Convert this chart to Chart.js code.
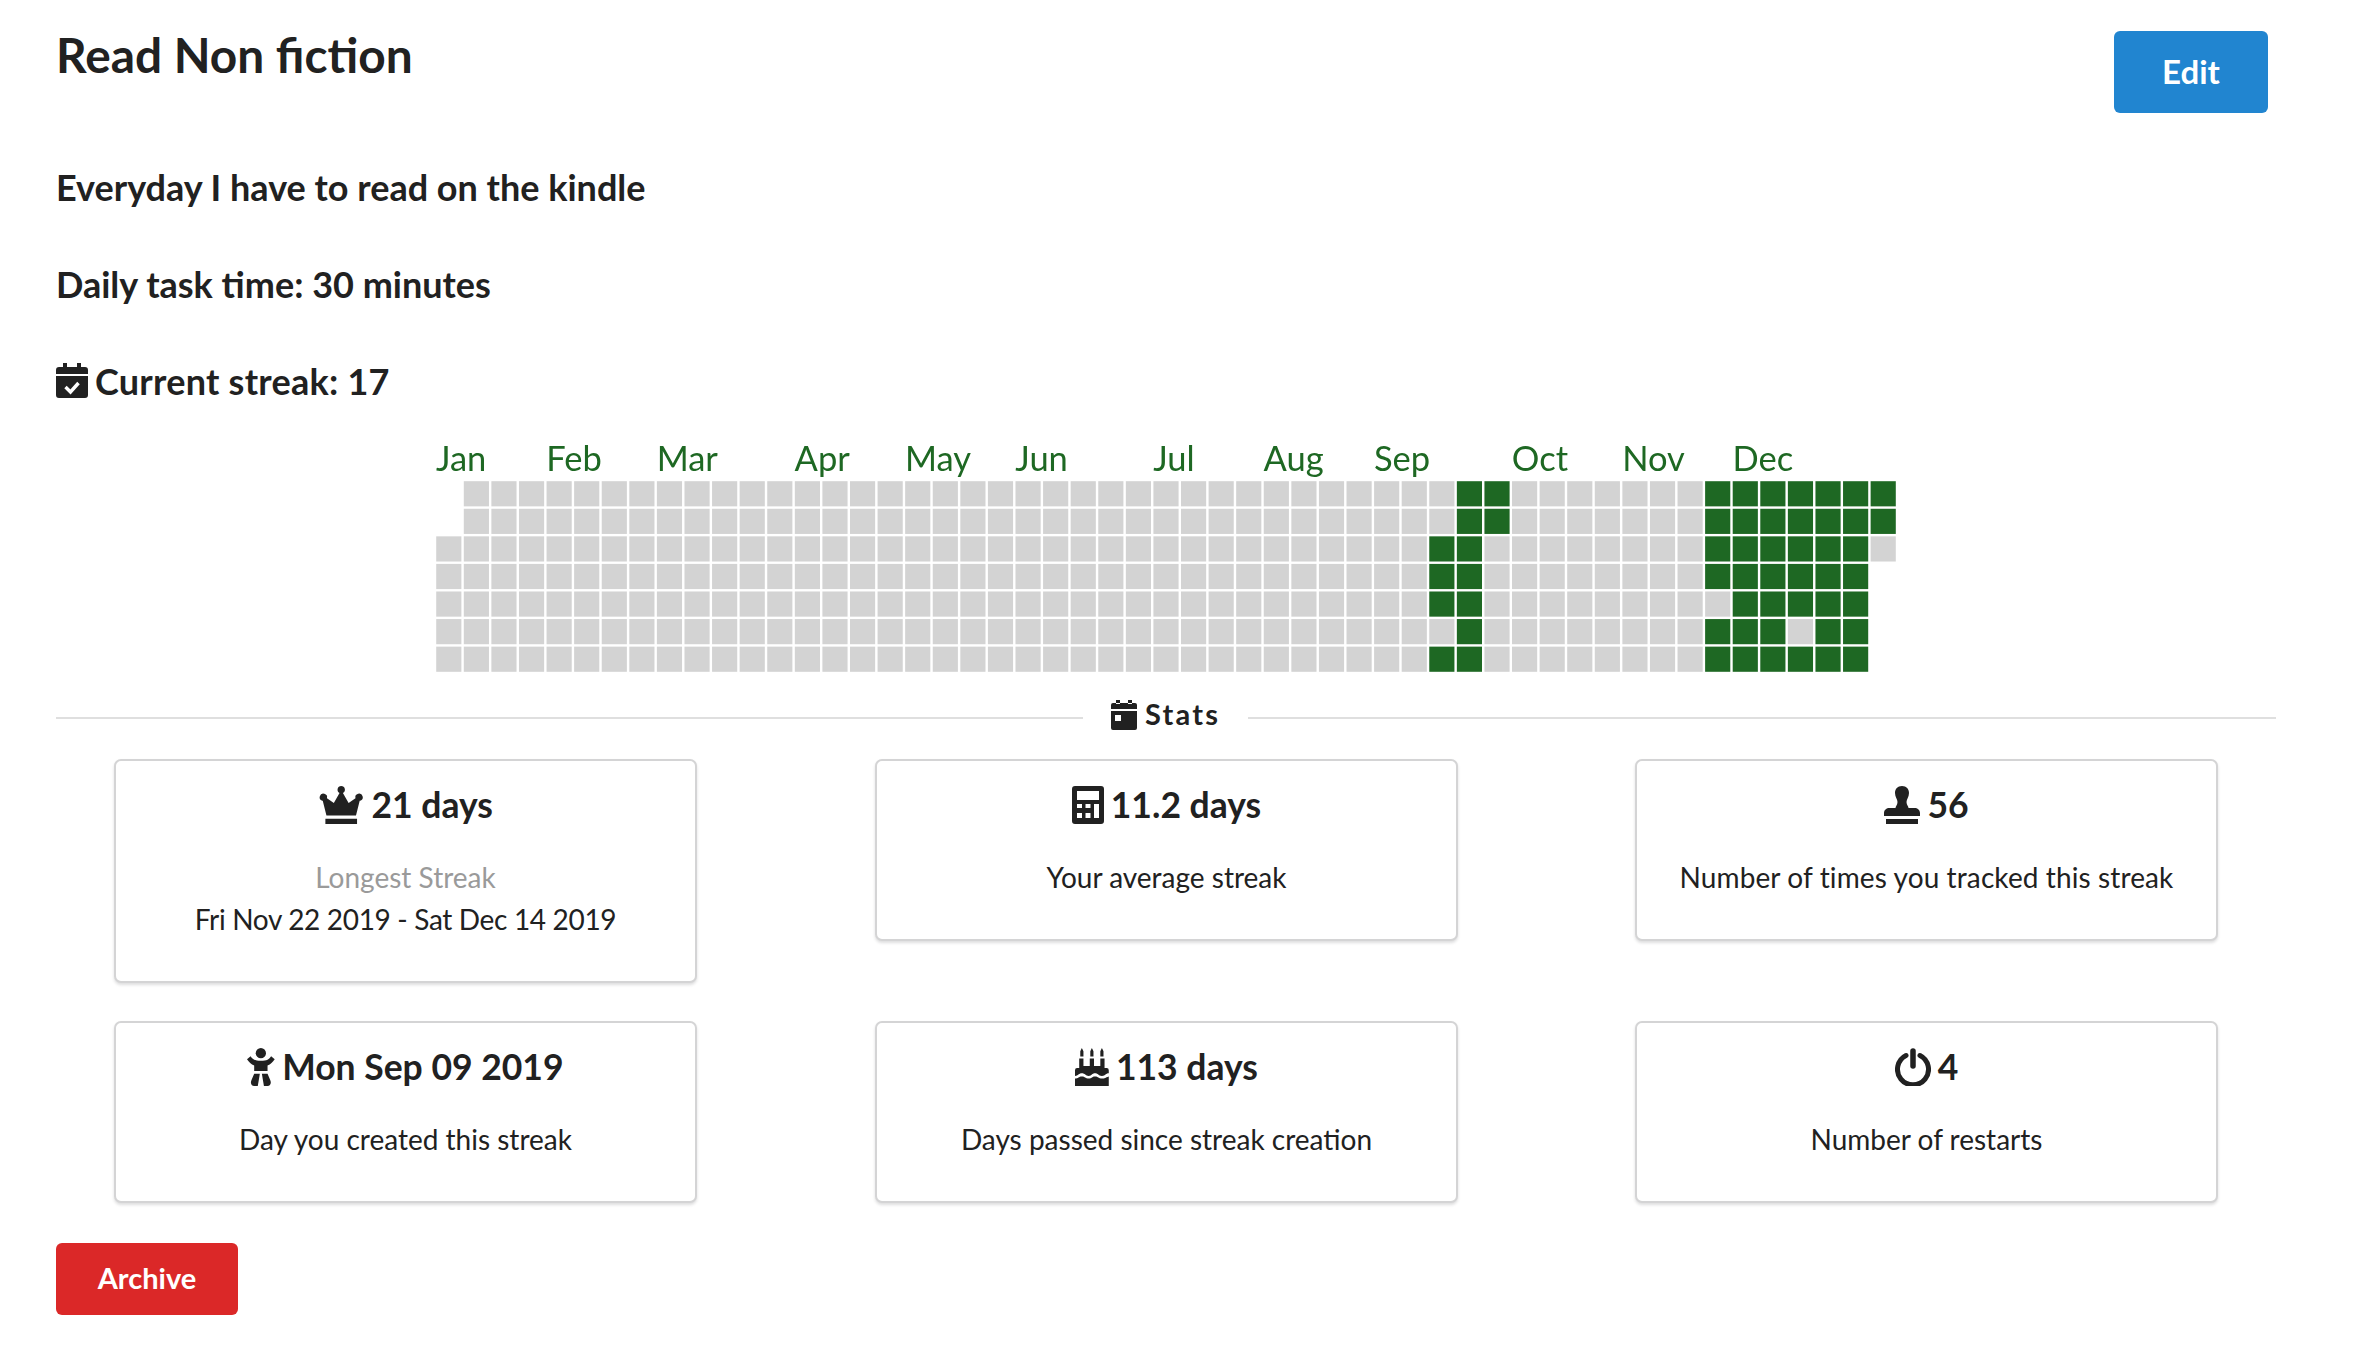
<!DOCTYPE html>
<html>
<head>
<meta charset="utf-8">
<title>Read Non fiction</title>
<script src="https://cdn.jsdelivr.net/npm/chart.js@4"></script>
<style>
  html, body { margin: 0; padding: 0; background: #fff; }
  body { width: 2361px; height: 1351px; position: relative; overflow: hidden; font-family: Lato, sans-serif; color: #212121; }
  .txt { position: absolute; white-space: nowrap; line-height: 1; }
  .title { left: 56px; top: 31px; font-size: 47.8px; font-weight: 700; }
  .info { left: 56px; font-size: 36px; font-weight: 700; }
  .btn { position: absolute; color: #fff; font-weight: 700; text-align: center; border-radius: 6px; }
  #edit { left: 2114px; top: 31px; width: 154px; height: 82px; line-height: 80px; font-size: 33px; background: #2185d0; }
  #archive { left: 56px; top: 1243px; width: 182px; height: 72px; line-height: 70px; font-size: 29px; background: #db2828; }
  .rule { position: absolute; top: 717px; height: 2px; background: #dfdfdf; }
  .card { position: absolute; box-sizing: border-box; width: 583px; border: 2px solid #d4d4d5; border-radius: 7px; box-shadow: 0 2px 3px rgba(34,36,38,.15); background: #fff; text-align: center; }
  .head { position: absolute; left: 0; right: 0; top: 23px; font-size: 35.5px; line-height: 42px; font-weight: 700; display: flex; justify-content: center; align-items: center; gap: 7px; }
  .head svg { height: 38px; width: auto; fill: #212121; }
  .sub { position: absolute; left: 0; right: 0; font-size: 28px; line-height: 34px; font-weight: 400; }
  .muted { color: #9a9a9a; }
  #heatmap { position: absolute; left: 435px; top: 430px; }
  svg { display: block; }
</style>
</head>
<body>
  <div class="txt title">Read Non fiction</div>
  <div class="btn" id="edit">Edit</div>
  <div class="txt info" style="top:169px">Everyday I have to read on the kindle</div>
  <div class="txt info" style="top:266px">Daily task time: 30 minutes</div>
  <svg style="position:absolute;left:56px;top:363px" width="32" height="35" viewBox="0 0 32 35">
    <path fill="#212121" d="M7 0h4v5H7zM21 0h4v5h-4zM3 4h26a3 3 0 0 1 3 3v4H0V7a3 3 0 0 1 3-3zM0 13h32v19a3 3 0 0 1-3 3H3a3 3 0 0 1-3-3z"/>
    <path fill="none" stroke="#fff" stroke-width="3.4" d="M9.5 24l5 5 8-9"/>
  </svg>
  <div class="txt info" style="left:95px;top:363px;letter-spacing:.25px">Current streak: 17</div>

  <canvas id="heatmap" width="1462" height="243"></canvas>

  <div class="rule" style="left:56px;width:1027px"></div>
  <div class="rule" style="left:1248px;width:1028px"></div>
  <svg style="position:absolute;left:1111px;top:700px" width="26" height="30" viewBox="0 0 26 30">
    <path fill="#212121" d="M5 0h4v4H5zM17 0h4v4h-4zM2 3h22a2 2 0 0 1 2 2v4H0V5a2 2 0 0 1 2-2zM0 11h26v17a2 2 0 0 1-2 2H2a2 2 0 0 1-2-2zM4 15v6h6v-6z" fill-rule="evenodd"/>
  </svg>
  <div class="txt" style="left:1145px;top:699px;font-size:29px;font-weight:700;letter-spacing:2.2px">Stats</div>

  <div class="card" style="left:114px;top:759px;height:224px">
    <div class="head">
      <svg viewBox="0 0 44 36"><path d="M22 0a3.5 3.5 0 0 1 1.6 6.6L29 16l6.500-4.500a3.500 3.500 0 1 1 4.500 2.500h-.5L36 28H8L4.500 14H4a3.500 3.500 0 1 1 4.500-2.500L15 16l5.400-9.400A3.500 3.500 0 0 1 22 0zM7 31h30v5H7z"/></svg>
      <span>21 days</span>
    </div>
    <div class="sub muted" style="top:99px">Longest Streak</div>
    <div class="sub" style="top:141px;letter-spacing:-.33px">Fri Nov 22 2019 - Sat Dec 14 2019</div>
  </div>
  <div class="card" style="left:875px;top:759px;height:182px">
    <div class="head">
      <svg viewBox="0 0 32 38"><path fill-rule="evenodd" d="M3 0h26a3 3 0 0 1 3 3v32a3 3 0 0 1-3 3H3a3 3 0 0 1-3-3V3a3 3 0 0 1 3-3zM5 5v9h22V5zM5 18v4h5v-4zM13.500 18v4h5v-4zM22 18v14h5V18zM5 27v5h5v-5zM13.500 27v5h5v-5z"/></svg>
      <span>11.2 days</span>
    </div>
    <div class="sub" style="top:99px">Your average streak</div>
  </div>
  <div class="card" style="left:1635px;top:759px;height:182px">
    <div class="head">
      <svg viewBox="0 0 36 38"><path d="M18 0c4.500 0 7 3 7 7 0 4-2.500 6-2.500 9 0 3 2 4 2 6h6c3 0 5.500 2 5.500 5v3H0v-3c0-3 2.500-5 5.500-5h6c0-2 2-3 2-6s-2.500-5-2.500-9c0-4 2.500-7 7-7zM2 33h32v5H2z"/></svg>
      <span>56</span>
    </div>
    <div class="sub" style="top:99px;letter-spacing:.11px">Number of times you tracked this streak</div>
  </div>
  <div class="card" style="left:114px;top:1021px;height:182px">
    <div class="head">
      <svg viewBox="0 0 27 37"><circle cx="13.500" cy="5" r="5"/><path d="M3.500 8c2 3 4 4.500 10 4.500S21.500 11 23.500 8l3.500 3c-2 3-4 5-7 6v5.500H7V17c-3-1-5-3-7-6zM7 25h5.500c-.5 4-1.500 8-2 12H7c-3 0-4-3-2.500-6zM14.500 25H20l2.500 6c1.500 3 .5 6-2.500 6h-3.500c-.5-4-1.500-8-2-12z"/></svg>
      <span>Mon Sep 09 2019</span>
    </div>
    <div class="sub" style="top:99px">Day you created this streak</div>
  </div>
  <div class="card" style="left:875px;top:1021px;height:182px">
    <div class="head">
      <svg viewBox="0 0 32 36"><path d="M5 3l1.500-3L8 3v5H5zM14.500 3L16 0l1.500 3v5h-3zM24 3l1.500-3L27 3v5h-3zM4 10h4v7h6v-7h4v7h6v-7h4v9h2a2 2 0 0 1 2 2v3c-3 0-3 2.500-6.500 2.500S22 24 19 24s-3 2.500-6 2.500S9.500 24 6.500 24 3 26.500 0 26.500V21a2 2 0 0 1 2-2h2zM0 29c3 0 3.500-2 6.500-2s3.500 2 6.500 2 3-2 6-2 3.500 2 6.500 2 3-1 6.500-2v9H0z"/></svg>
      <span>113 days</span>
    </div>
    <div class="sub" style="top:99px">Days passed since streak creation</div>
  </div>
  <div class="card" style="left:1635px;top:1021px;height:182px">
    <div class="head">
      <svg viewBox="0 0 36 38"><path fill="none" stroke="#212121" stroke-width="5" stroke-linecap="round" d="M11 7.500a15.500 15.500 0 1 0 14 0"/><path fill="none" stroke="#212121" stroke-width="5.500" stroke-linecap="round" d="M18 3v15"/></svg>
      <span>4</span>
    </div>
    <div class="sub" style="top:99px">Number of restarts</div>
  </div>

  <div class="btn" id="archive">Archive</div>

<script>
// Month labels and the week column each one starts at
const monthLabels = ["Jan", "Feb", "Mar", "Apr", "May", "Jun", "Jul", "Aug", "Sep", "Oct", "Nov", "Dec"];
const monthWeeks = [0, 4, 8, 13, 17, 21, 26, 30, 34, 39, 43, 47];

// One string per week, one char per day, Sunday first: 1 tracked, 0 not tracked, - no day
const weekValues = [
  "--00000", "0000000", "0000000", "0000000", "0000000", "0000000", "0000000", "0000000",
  "0000000", "0000000", "0000000", "0000000", "0000000", "0000000", "0000000", "0000000",
  "0000000", "0000000", "0000000", "0000000", "0000000", "0000000", "0000000", "0000000",
  "0000000", "0000000", "0000000", "0000000", "0000000", "0000000", "0000000", "0000000",
  "0000000", "0000000", "0000000", "0000000", "0011101", "1111111", "1100000", "0000000",
  "0000000", "0000000", "0000000", "0000000", "0000000", "0000000", "1111011", "1111111",
  "1111111", "1111101", "1111111", "1111111", "110----"
];

const cellsWith = (flag) => {
  const cells = [];
  weekValues.forEach((week, x) => {
    [...week].forEach((day, y) => {
      if (day === flag) cells.push({ x: x + 0.5, y: y + 0.5 });
    });
  });
  return cells;
};

// pointStyle rect draws a side of radius * sqrt(2)
const cellRadius = 17.8;

new Chart(document.querySelector("#heatmap"), {
  type: "scatter",
  data: {
    datasets: [
      { label: "Not tracked", data: cellsWith("0"), backgroundColor: "#d3d3d3" },
      { label: "Tracked", data: cellsWith("1"), backgroundColor: "#1e6823" }
    ]
  },
  options: {
    responsive: false,
    animation: false,
    devicePixelRatio: 1,
    layout: { padding: 0, autoPadding: false },
    elements: { point: { pointStyle: "rect", radius: cellRadius, hoverRadius: cellRadius, borderWidth: 0 } },
    plugins: { legend: { display: false }, tooltip: { enabled: false } },
    scales: {
      x: {
        type: "linear",
        position: "top",
        min: 0,
        max: 53,
        grid: { display: false, drawTicks: false },
        border: { display: false },
        afterBuildTicks: (axis) => { axis.ticks = monthWeeks.map((value) => ({ value })); },
        afterFit: (axis) => { axis.height = 50; },
        ticks: {
          autoSkip: false,
          maxRotation: 0,
          minRotation: 0,
          align: "start",
          labelOffset: 1,
          padding: -1,
          color: "#1e6823",
          font: { family: "Lato", size: 34.5, weight: "400" },
          callback: (value) => monthLabels[monthWeeks.indexOf(value)]
        }
      },
      y: { type: "linear", display: false, reverse: true, min: 0, max: 7 }
    }
  }
});
</script>
</body>
</html>
